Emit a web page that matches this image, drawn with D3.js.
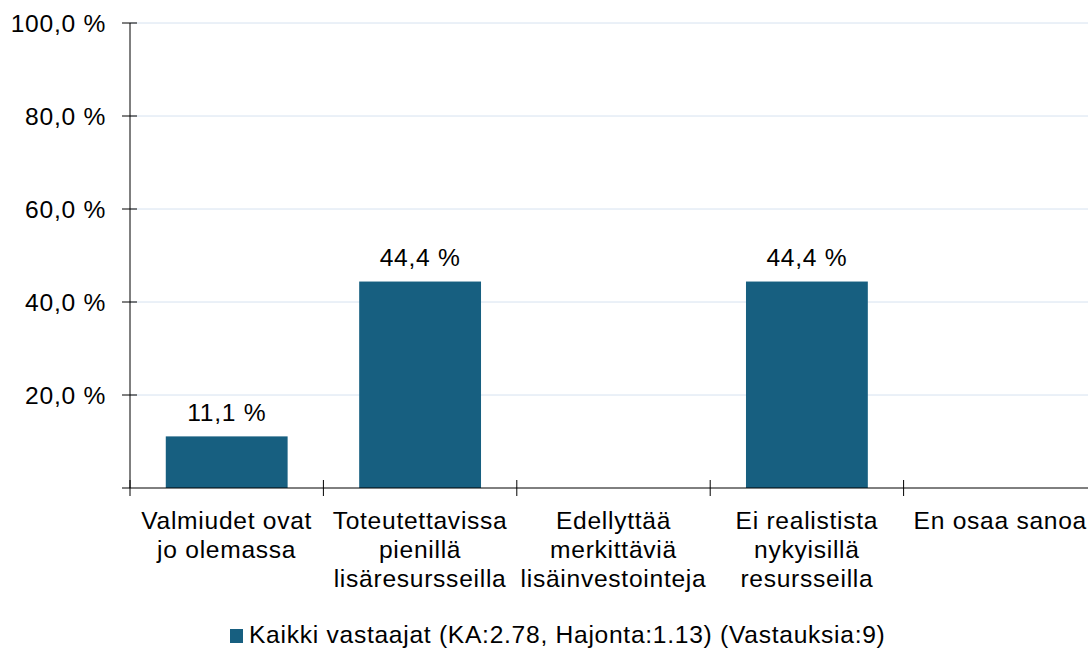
<!DOCTYPE html>
<html><head><meta charset="utf-8">
<script src="https://cdn.jsdelivr.net/npm/d3@7"></script>
<style>body{margin:0;background:#fff}svg{display:block}text{font-family:"Liberation Sans",Arial,sans-serif;fill:#000;letter-spacing:0.72px}</style>
</head><body>
<svg id="c" width="1088" height="648"></svg>
<script>
const categories = [["Valmiudet ovat","jo olemassa"],["Toteutettavissa","pienillä","lisäresursseilla"],["Edellyttää","merkittäviä","lisäinvestointeja"],["Ei realistista","nykyisillä","resursseilla"],["En osaa sanoa"]];
const values = [11.1, 44.4, 0, 44.4, 0];
const yTicks = [20, 40, 60, 80, 100];
const legendLabel = "Kaikki vastaajat (KA:2.78, Hajonta:1.13) (Vastauksia:9)";
const color = "#175f80";
const FS = 24.6;

const svg = d3.select("#c");
const x0 = 130, x1 = 1097, yTop = 23, yBot = 488;
const x = d3.scaleBand().domain(d3.range(values.length)).range([x0, x1]).paddingInner(0.37).paddingOuter(0.185);
const y = d3.scaleLinear().domain([0, 100]).range([yBot, yTop]);
const fmt = v => v.toFixed(1).replace(".", ",") + " %";

// gridlines
svg.append("g").selectAll("line").data(yTicks).join("line")
  .attr("x1", x0).attr("x2", 1088).attr("y1", d => y(d)).attr("y2", d => y(d))
  .attr("stroke", "#d6e2f0").attr("stroke-width", 1);

// bars
svg.append("g").selectAll("rect").data(values).join("rect")
  .attr("x", (d, i) => x(i)).attr("width", x.bandwidth())
  .attr("y", d => y(d)).attr("height", d => yBot - y(d))
  .attr("fill", color);

// value labels
svg.append("g").selectAll("text").data(values.map((v, i) => ({v, i})).filter(d => d.v > 0)).join("text")
  .attr("x", d => x(d.i) + x.bandwidth() / 2).attr("y", d => y(d.v) - 15.5)
  .attr("text-anchor", "middle").attr("font-size", FS).text(d => fmt(d.v));

// y axis
const ya = svg.append("g");
ya.append("line").attr("x1", x0).attr("x2", x0).attr("y1", yTop).attr("y2", yBot).attr("stroke", "#000");
ya.selectAll("line.t").data(yTicks).join("line").attr("class", "t")
  .attr("x1", x0 - 8).attr("x2", x0 + 7).attr("y1", d => y(d)).attr("y2", d => y(d)).attr("stroke", "#000");
ya.selectAll("text").data(yTicks).join("text")
  .attr("x", 106).attr("y", d => y(d) + 8.5).attr("text-anchor", "end").attr("font-size", FS).text(d => fmt(d));

// x axis
const xa = svg.append("g");
xa.append("line").attr("x1", x0 - 8).attr("x2", 1088).attr("y1", yBot).attr("y2", yBot).attr("stroke", "#000");
const step = x.step();
xa.selectAll("line.t").data(d3.range(values.length + 1)).join("line").attr("class", "t")
  .attr("x1", i => x0 + i * step).attr("x2", i => x0 + i * step)
  .attr("y1", yBot - 8).attr("y2", yBot + 8).attr("stroke", "#000");
const lbl = xa.selectAll("text").data(categories).join("text")
  .attr("text-anchor", "middle").attr("font-size", FS);
lbl.each(function(lines, i) {
  const t = d3.select(this);
  lines.forEach((l, k) => t.append("tspan").attr("x", x(i) + x.bandwidth() / 2).attr("y", 529 + k * 29).text(l));
});

// legend
const lg = svg.append("g");
lg.append("rect").attr("x", 230).attr("y", 629).attr("width", 13).attr("height", 14).attr("fill", color);
lg.append("text").attr("x", 249).attr("y", 643).attr("font-size", FS).text(legendLabel);
</script>
</body></html>
